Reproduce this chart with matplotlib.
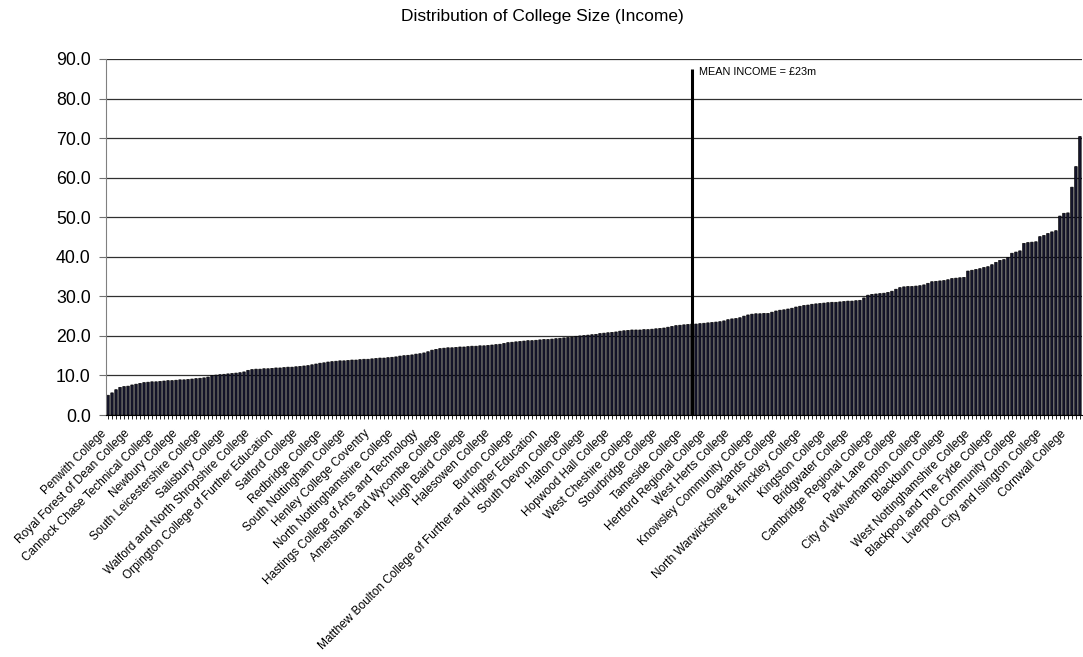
import matplotlib
matplotlib.use("Agg")
import matplotlib.pyplot as plt
import matplotlib.transforms as mtransforms
import numpy as np

plt.rcParams['font.family'] = ['Liberation Sans', 'DejaVu Sans']

title = "Distribution of College Size (Income)"
mean_income = 23.0
mean_label = "MEAN INCOME = £23m"
mean_line_top = 87.5

# Income (£m) per college, sorted ascending
income = [
    5.0, 5.6, 6.4, 7.0, 7.2, 7.3,
    7.6, 7.8, 8.0, 8.2, 8.3, 8.4, 8.4,
    8.5, 8.6, 8.7, 8.7, 8.8, 8.9, 8.9, 9.0, 9.1, 9.2,
    9.3, 9.4, 9.6, 10.0, 10.1, 10.2, 10.3,
    10.4, 10.5, 10.6, 10.7, 10.9, 11.3, 11.5, 11.6, 11.6, 11.7,
    11.7, 11.8, 11.9, 11.9, 12.0, 12.1, 12.1, 12.2, 12.3, 12.4,
    12.5, 12.7, 12.9, 13.1, 13.2, 13.4, 13.5, 13.6, 13.7, 13.7,
    13.8, 13.9, 13.9, 14.0, 14.1, 14.1, 14.2, 14.3, 14.4, 14.4,
    14.5, 14.6, 14.7, 14.9, 15.0, 15.1, 15.2, 15.4, 15.5, 15.7,
    16.0, 16.4, 16.6, 16.8, 16.9, 17.0, 17.0, 17.1, 17.2, 17.2,
    17.3, 17.4, 17.4, 17.5, 17.5, 17.6, 17.7, 17.8, 17.9, 18.1,
    18.3, 18.4, 18.5, 18.6, 18.7, 18.8, 18.8, 18.9, 19.0, 19.1,
    19.1, 19.2, 19.3, 19.4, 19.5, 19.6, 19.7, 19.9, 20.0, 20.1,
    20.2, 20.3, 20.4, 20.6, 20.7, 20.8, 20.9, 21.0, 21.2, 21.3,
    21.4, 21.5, 21.5, 21.5, 21.6, 21.6, 21.7, 21.8, 21.9, 22.0,
    22.2, 22.4, 22.6, 22.7, 22.8, 22.9, 23.0, 23.0, 23.1, 23.2,
    23.3, 23.4, 23.5, 23.6, 23.8, 24.1, 24.3, 24.4, 24.6, 25.0,
    25.3, 25.5, 25.6, 25.6, 25.7, 25.7, 26.0, 26.3, 26.5, 26.6,
    26.8, 27.0, 27.3, 27.5, 27.7, 27.8, 28.0, 28.1, 28.2, 28.3,
    28.4, 28.5, 28.5, 28.6, 28.7, 28.8, 28.8, 28.9, 29.0, 29.6,
    30.3, 30.5, 30.6, 30.7, 30.8, 31.0, 31.3, 31.8, 32.2, 32.4,
    32.5, 32.5, 32.6, 32.7, 32.9, 33.3, 33.7, 33.8, 33.9, 34.0,
    34.2, 34.5, 34.6, 34.7, 34.8, 36.4, 36.6, 36.8, 37.0, 37.3,
    37.5, 38.0, 38.6, 39.1, 39.3, 39.8, 40.9, 41.2, 41.5, 43.4,
    43.6, 43.7, 43.8, 45.1, 45.4, 45.9, 46.3, 46.6, 50.3, 51.0,
    51.1, 57.6, 62.8, 70.4,
]

# Labelled colleges (every 6th bar)
label_step = 6
labelled_colleges = [
    "Penwith College", "Royal Forest of Dean College", "Cannock Chase Technical College",
    "Newbury College", "South Leicestershire College", "Salisbury College",
    "Walford and North Shropshire College", "Orpington College of Further Education",
    "Salford College", "Redbridge College", "South Nottingham College",
    "Henley College Coventry", "North Nottinghamshire College",
    "Hastings College of Arts and Technology", "Amersham and Wycombe College",
    "Hugh Baird College", "Halesowen College", "Burton College",
    "Matthew Boulton College of Further and Higher Education", "South Devon College",
    "Halton College", "Hopwood Hall College", "West Cheshire College",
    "Stourbridge College", "Tameside College", "Hertford Regional College",
    "West Herts College", "Knowsley Community College", "Oaklands College",
    "North Warwickshire & Hinckley College", "Kingston College", "Bridgwater College",
    "Cambridge Regional College", "Park Lane College", "City of Wolverhampton College",
    "Blackburn College", "West Nottinghamshire College", "Blackpool and The Fylde College",
    "Liverpool Community College", "City and Islington College", "Cornwall College",
]
y_ticks = [0, 10, 20, 30, 40, 50, 60, 70, 80, 90]

n = len(income)
x = np.arange(n)

fig = plt.figure(figsize=(10.83, 6.57), dpi=100)
ax = fig.add_axes([0.0979, 0.3683, 0.9011, 0.5419])

bars = ax.bar(x, income, width=0.62, color='#16162e', edgecolor='black',
              linewidth=0.5, zorder=2)
for b in bars:
    b.set_snap(False)

ax.set_xlim(-0.5, n - 0.5)
ax.set_ylim(0, 90)
ax.set_yticks(y_ticks)
ax.set_yticklabels([f"{v:.1f}" for v in y_ticks], fontsize=12.8)
ax.yaxis.grid(True, color='#303030', linewidth=0.9)
ax.set_axisbelow(True)

labels = [''] * n
for k, name in enumerate(labelled_colleges):
    labels[k * label_step] = name
ax.set_xticks(x)
ax.set_xticklabels(labels, rotation=45, ha='right', rotation_mode='anchor', fontsize=8.6)
ax.tick_params(axis='x', length=3, width=0.6, pad=6, color='black')
ax.tick_params(axis='y', length=5, width=0.8, pad=6, color='#707070')
shift = mtransforms.ScaledTranslation(-0.08, 0.0, fig.dpi_scale_trans)
for lbl in ax.get_xticklabels():
    lbl.set_transform(lbl.get_transform() + shift)

for s in ['top', 'right']:
    ax.spines[s].set_visible(False)
ax.spines['left'].set_color('#808080')
ax.spines['bottom'].set_color('black')

# Mean income marker
mean_idx = int(np.searchsorted(income, mean_income))
ax.vlines(mean_idx, 0, mean_line_top, color='black', linewidth=2.2, zorder=3)
ax.annotate(mean_label, xy=(mean_idx, mean_line_top), xytext=(5, 1),
            textcoords='offset points', ha='left', va='top', fontsize=7.8)

fig.text(0.5005, 1 - 17 / 657, title, ha='center', va='center', fontsize=12.5)

fig.savefig("out.png", dpi=100)
